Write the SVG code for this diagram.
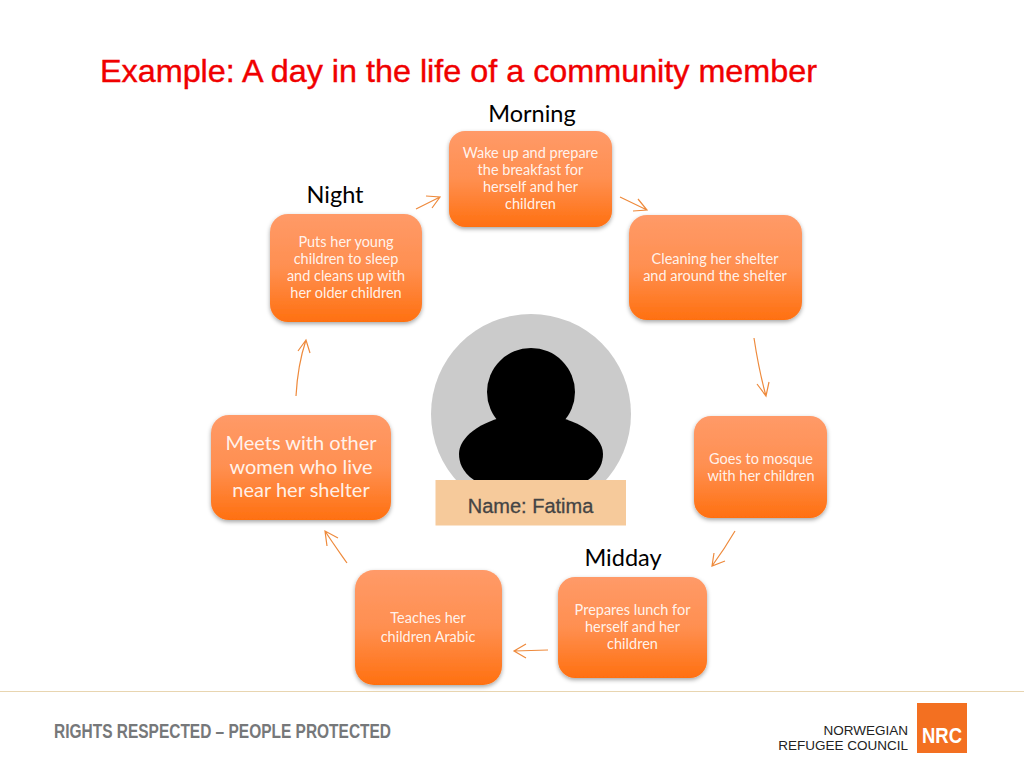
<svg xmlns="http://www.w3.org/2000/svg" width="1024" height="768" viewBox="0 0 1024 768">
<style>
.n{fill:url(#og);filter:url(#sh)}
.t{font-family:Lato,"Liberation Sans",sans-serif;font-size:14.5px;fill:#fff;fill-opacity:.9;text-anchor:middle}
.big{font-size:20px}
.l{font-family:Lato,"Liberation Sans",sans-serif;font-size:23.5px;fill:#000;text-anchor:middle}
.a{fill:none;stroke:#ee8a3c;stroke-width:1.2}
</style>
<defs>
<linearGradient id="og" x1="0" y1="0" x2="0" y2="1"><stop offset="0" stop-color="#ff9a68"/><stop offset=".5" stop-color="#ff8f50"/><stop offset="1" stop-color="#ff7010"/></linearGradient>
<filter id="sh" x="-10%" y="-10%" width="120%" height="125%"><feDropShadow dx="0" dy="2" stdDeviation="2" flood-color="#000" flood-opacity=".35"/></filter>
</defs>
<rect width="1024" height="768" fill="#fff"/>
<text id="title" x="100" y="82" font-family="'Liberation Sans',sans-serif" font-size="32" fill="#f00000" stroke="#f00000" stroke-width=".4" textLength="717" lengthAdjust="spacingAndGlyphs">Example: A day in the life of a community member</text>
<g id="labels">
<text class="l" x="532" y="122">Morning</text>
<text class="l" x="335" y="203">Night</text>
<text class="l" x="623" y="566">Midday</text>
</g>
<g id="person">
<circle cx="531" cy="414" r="100" fill="#cbcbcb"/>
<circle cx="531" cy="392" r="44" fill="#000"/>
<path d="M474 480C462 472 459 462 459 454C459 434 490 414 531 414C572 414 603 434 603 454C603 462 600 472 588 480Z" fill="#000"/>
<rect x="435.500" y="480" width="190.500" height="45.500" fill="#f6ca9b"/>
<text x="530.500" y="512.500" font-family="'Liberation Sans',sans-serif" font-size="20" fill="#444" stroke="#444" stroke-width=".3" text-anchor="middle">Name: Fatima</text>
</g>
<g id="connectors">
<path class="a" d="M416 209L440 197M426 196L440 197L432 208"/>
<path class="a" d="M620 197L647 210M633 211L647 210L638 199"/>
<path class="a" d="M754 338C757 358 761 378 766 396M757 384L766 396L769 382"/>
<path class="a" d="M735 531C728 543 720 555 712 566M714 553L712 566L725 561"/>
<path class="a" d="M548 650L514 651M526 644L514 651L526 658"/>
<path class="a" d="M347 563C340 553 332 542 325 531M327 546L325 531L338 538"/>
<path class="a" d="M296 396C297 378 300 358 306 340M298 351L306 340L310 353"/>
</g>
<g id="n1"><rect class="n" x="449" y="131" width="163" height="96" rx="16"/>
<text class="t"><tspan x="530.500" y="158">Wake up and prepare</tspan><tspan x="530.500" y="175">the breakfast for</tspan><tspan x="530.500" y="192">herself and her</tspan><tspan x="530.500" y="209">children</tspan></text></g>
<g id="n2"><rect class="n" x="629" y="215" width="173" height="105" rx="18"/>
<text class="t"><tspan x="715" y="264">Cleaning her shelter</tspan><tspan x="715" y="281">and around the shelter</tspan></text></g>
<g id="n3"><rect class="n" x="694" y="416" width="133" height="102" rx="17"/>
<text class="t"><tspan x="761" y="464">Goes to mosque</tspan><tspan x="761" y="481">with her children</tspan></text></g>
<g id="n4"><rect class="n" x="558" y="577" width="149" height="101" rx="17"/>
<text class="t"><tspan x="632.500" y="615">Prepares lunch for</tspan><tspan x="632.500" y="632">herself and her</tspan><tspan x="632.500" y="649">children</tspan></text></g>
<g id="n5"><rect class="n" x="355" y="570" width="147" height="115" rx="19"/>
<text class="t"><tspan x="428" y="623">Teaches her</tspan><tspan x="428" y="642">children Arabic</tspan></text></g>
<g id="n6"><rect class="n" x="211" y="415" width="180" height="105" rx="18"/>
<text class="t big"><tspan x="301" y="450">Meets with other</tspan><tspan x="301" y="474">women who live</tspan><tspan x="301" y="497">near her shelter</tspan></text></g>
<g id="n7"><rect class="n" x="270" y="214" width="152" height="108" rx="18"/>
<text class="t"><tspan x="346" y="247">Puts her young</tspan><tspan x="346" y="264">children to sleep</tspan><tspan x="346" y="281">and cleans up with</tspan><tspan x="346" y="298">her older children</tspan></text></g>
<g id="footer">
<line x1="0" y1="691.500" x2="1024" y2="691.500" stroke="#e8d5b0" stroke-width="1"/>
<text x="54" y="738" font-family="'Liberation Sans',sans-serif" font-size="21" font-weight="700" fill="#76787a" textLength="337" lengthAdjust="spacingAndGlyphs">RIGHTS RESPECTED – PEOPLE PROTECTED</text>
<text x="908" y="735" font-family="'Liberation Sans',sans-serif" font-size="13.500" fill="#222" text-anchor="end">NORWEGIAN</text>
<text x="908" y="750" font-family="'Liberation Sans',sans-serif" font-size="13.500" fill="#222" text-anchor="end">REFUGEE COUNCIL</text>
<rect x="917" y="703" width="50" height="50" fill="#f37021"/>
<text x="942" y="743" font-family="'Liberation Sans',sans-serif" font-size="22" font-weight="700" fill="#fff" text-anchor="middle" textLength="40" lengthAdjust="spacingAndGlyphs">NRC</text>
</g>
</svg>
